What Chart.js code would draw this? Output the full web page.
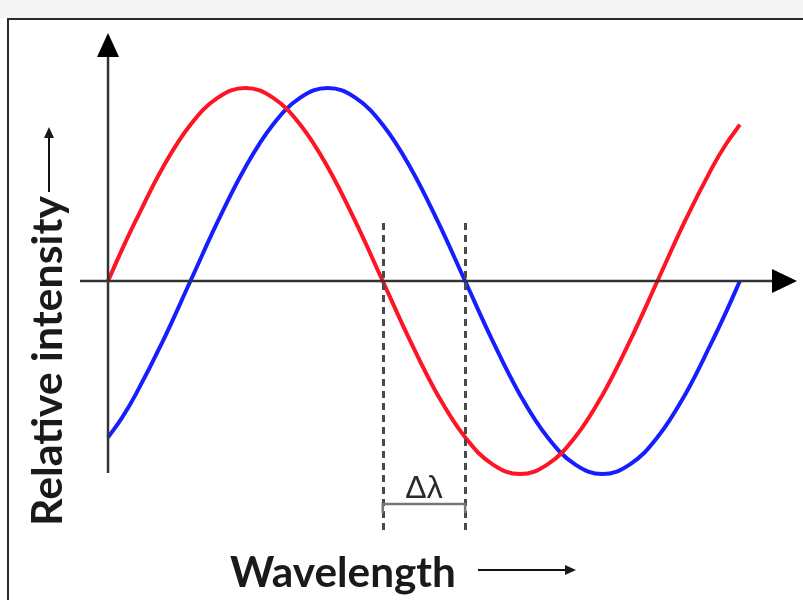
<!DOCTYPE html>
<html>
<head>
<meta charset="utf-8">
<script src="https://cdn.jsdelivr.net/npm/chart.js@4.4.1/dist/chart.umd.min.js"></script>
<style>
  html, body { margin: 0; padding: 0; width: 803px; height: 600px; overflow: hidden; background: #ffffff; }
  #band { position: absolute; left: 0; top: 0; width: 803px; height: 18px; background: #f4f4f4; }
  #frame { position: absolute; left: 7px; top: 18px; width: 830px; height: 640px; border: 2px solid #2a2a2a; box-sizing: border-box; background: #fff; }
  #wrap { position: absolute; left: 0; top: 0; width: 803px; height: 600px; }
</style>
</head>
<body>
<div id="band"></div>
<div id="frame"></div>
<div id="wrap"><canvas id="c" width="803" height="600"></canvas></div>
<script>
// Wavelength positions (arbitrary units)
const wavelength = [0,2.5,5,10,15,20,25,30,35,40,45,50,55,60,65,70,75,80,85,90,95,100,105,110,112.5,115];
// Relative intensity of the red wave
const redIntensity = [0,0.16,0.31,0.59,0.81,0.95,1,0.95,0.81,0.59,0.31,0,-0.31,-0.59,-0.81,-0.95,-1,-0.95,-0.81,-0.59,-0.31,0,0.31,0.59,0.71,0.81];
// Relative intensity of the blue (shifted) wave
const blueIntensity = [-0.81,-0.71,-0.59,-0.31,0,0.31,0.59,0.81,0.95,1,0.95,0.81,0.59,0.31,0,-0.31,-0.59,-0.81,-0.95,-1,-0.95,-0.81,-0.59,-0.31,-0.16,0];
// Zero crossings marking the shift
const shiftMarkers = [50, 65];
const shiftLabel = 'Δλ';
const xTitle = 'Wavelength';
const yTitle = 'Relative intensity';

const toPts = (ys) => wavelength.map((x, i) => ({ x, y: ys[i] }));

const annot = {
  id: 'annot',
  afterDatasetsDraw(chart) {
    const ctx = chart.ctx;
    const xs = chart.scales.x, ys = chart.scales.y;
    const px = v => xs.getPixelForValue(v), py = v => ys.getPixelForValue(v);
    ctx.save();
    // dashed markers
    ctx.strokeStyle = '#4a4a4a';
    ctx.lineWidth = 3;
    ctx.setLineDash([7, 5]);
    shiftMarkers.forEach(m => {
      ctx.beginPath();
      ctx.moveTo(Math.round(px(m)) + 0.5, py(0.30));
      ctx.lineTo(Math.round(px(m)) + 0.5, py(-1.29));
      ctx.stroke();
    });
    ctx.setLineDash([]);
    // bracket
    const by = py(-1.155);
    ctx.strokeStyle = '#777';
    ctx.lineWidth = 2.5;
    ctx.beginPath();
    ctx.moveTo(px(shiftMarkers[0]), by + 9);
    ctx.lineTo(px(shiftMarkers[0]), by);
    ctx.lineTo(px(shiftMarkers[1]), by);
    ctx.lineTo(px(shiftMarkers[1]), by + 9);
    ctx.stroke();
    // delta label
    ctx.fillStyle = '#2a2a2a';
    ctx.font = '32px "Liberation Sans", sans-serif';
    ctx.textAlign = 'center';
    ctx.textBaseline = 'alphabetic';
    ctx.fillText(shiftLabel, (px(shiftMarkers[0]) + px(shiftMarkers[1])) / 2, by - 6);

    // x axis
    const x0 = px(0), y0 = py(0);
    ctx.strokeStyle = '#333';
    ctx.lineWidth = 2.5;
    ctx.beginPath();
    ctx.moveTo(chart.chartArea.left, y0);
    ctx.lineTo(chart.chartArea.right - 20, y0);
    ctx.stroke();
    ctx.fillStyle = '#000';
    ctx.beginPath();
    ctx.moveTo(chart.chartArea.right, y0);
    ctx.lineTo(chart.chartArea.right - 25, y0 - 12);
    ctx.lineTo(chart.chartArea.right - 25, y0 + 12);
    ctx.closePath();
    ctx.fill();
    // y axis
    ctx.beginPath();
    ctx.moveTo(x0, py(-0.995));
    ctx.lineTo(x0, chart.chartArea.top + 20);
    ctx.stroke();
    ctx.beginPath();
    ctx.moveTo(x0, chart.chartArea.top);
    ctx.lineTo(x0 - 11, chart.chartArea.top + 24);
    ctx.lineTo(x0 + 11, chart.chartArea.top + 24);
    ctx.closePath();
    ctx.fill();

    // titles
    const fitFont = (txt, w) => {
      let s = 34;
      ctx.font = 'bold ' + s + 'px Lato, sans-serif';
      s = s * w / ctx.measureText(txt).width;
      return 'bold ' + s.toFixed(1) + 'px Lato, sans-serif';
    };
    ctx.fillStyle = '#1a1a1a';
    ctx.textAlign = 'left';
    ctx.font = fitFont(xTitle, 226);
    ctx.fillText(xTitle, 230, 587);
    // x arrow
    ctx.strokeStyle = '#111';
    ctx.lineWidth = 2;
    ctx.beginPath();
    ctx.moveTo(478, 570); ctx.lineTo(568, 570); ctx.stroke();
    ctx.beginPath();
    ctx.moveTo(576, 570); ctx.lineTo(565, 565); ctx.lineTo(565, 575); ctx.closePath(); ctx.fill();

    // y title
    ctx.save();
    ctx.translate(62, 526);
    ctx.rotate(-Math.PI / 2);
    ctx.font = fitFont(yTitle, 330);
    ctx.textAlign = 'left';
    ctx.fillText(yTitle, 0, 0);
    ctx.restore();
    // y arrow
    ctx.beginPath();
    ctx.moveTo(49, 192); ctx.lineTo(49, 136); ctx.stroke();
    ctx.beginPath();
    ctx.moveTo(49, 127); ctx.lineTo(44, 138); ctx.lineTo(54, 138); ctx.closePath(); ctx.fill();
    ctx.restore();
  }
};

new Chart(document.getElementById('c'), {
  type: 'scatter',
  data: {
    datasets: [
      { data: toPts(redIntensity), borderColor: 'rgb(255,20,35)', borderWidth: 4, showLine: true, pointRadius: 0, tension: 0.4 },
      { data: toPts(blueIntensity), borderColor: 'rgb(20,30,255)', borderWidth: 4, showLine: true, pointRadius: 0, tension: 0.4 }
    ]
  },
  options: {
    responsive: false,
    animation: false,
    layout: { padding: { left: 80, right: 6, top: 33, bottom: 70 } },
    plugins: { legend: { display: false }, tooltip: { enabled: false } },
    scales: {
      x: { type: 'linear', min: -5.1, max: 125.4, display: false },
      y: { type: 'linear', min: -1.29, max: 1.285, display: false }
    }
  },
  plugins: [annot]
});
</script>
</body>
</html>
